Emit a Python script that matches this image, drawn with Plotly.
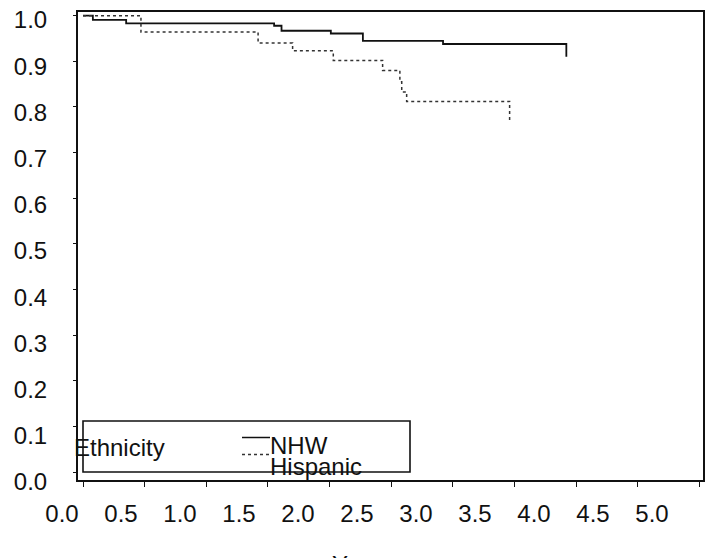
import plotly.graph_objects as go

W, H = 705, 558

# Kaplan-Meier step estimates by ethnicity
years_nhw = [0.0, 0.08, 0.35, 1.55, 1.61, 2.01, 2.27, 2.92, 3.92]
surv_nhw = [1.0, 0.991, 0.983, 0.978, 0.967, 0.961, 0.945, 0.938, 0.910]

years_hisp = [0.0, 0.47, 1.42, 1.70, 2.03, 2.43, 2.57, 2.585, 2.625, 3.46]
surv_hisp = [1.0, 0.964, 0.940, 0.923, 0.902, 0.880, 0.855, 0.833, 0.812, 0.766]

group_labels = ["NHW", "Hispanic"]
legend_title = "Ethnicity"
x_title = "Years"

x_ticks = [0.0, 0.5, 1.0, 1.5, 2.0, 2.5, 3.0, 3.5, 4.0, 4.5, 5.0]
x_tick_text = ["0.0", "0.5", "1.0", "1.5", "2.0", "2.5", "3.0", "3.5", "4.0", "4.5", "5.0"]
y_ticks = [0.0, 0.1, 0.2, 0.3, 0.4, 0.5, 0.6, 0.7, 0.8, 0.9, 1.0]
y_tick_text = ["0.0", "0.1", "0.2", "0.3", "0.4", "0.5", "0.6", "0.7", "0.8", "0.9", "1.0"]

FONT = "Liberation Sans, Arial, sans-serif"
INK = "#111111"


def fx(px):
    return px / W


def fy(py):
    return 1 - py / H


fig = go.Figure()

fig.add_trace(go.Scatter(
    x=years_nhw, y=surv_nhw, name=group_labels[0], mode="lines",
    line=dict(shape="hv", color=INK, width=1.8),
    xaxis="x", yaxis="y",
))
fig.add_trace(go.Scatter(
    x=years_hisp, y=surv_hisp, name=group_labels[1], mode="lines",
    line=dict(shape="hv", color="#333333", width=1.5, dash="dot"),
    xaxis="x", yaxis="y",
))
# carrier for the label axes
fig.add_trace(go.Scatter(x=[], y=[], xaxis="x2", yaxis="y2",
                         showlegend=False, hoverinfo="skip"))

frame = dict(showline=True, mirror=True, linecolor=INK, linewidth=1.6,
             showgrid=False, zeroline=False, showticklabels=False,
             ticks="outside", tickcolor=INK, tickwidth=1.2)

fig.update_layout(
    width=W, height=H, autosize=False,
    margin=dict(l=0, r=0, t=0, b=0),
    paper_bgcolor="white", plot_bgcolor="rgba(0,0,0,0)",
    showlegend=False,
    font=dict(family=FONT, size=24, color=INK),
    xaxis=dict(domain=[fx(78), fx(703)], range=[-0.0406, 5.0284],
               tickvals=x_ticks, ticklen=5, anchor="y", **frame),
    yaxis=dict(domain=[fy(480), fy(12)], range=[-0.0175, 1.0081],
               tickvals=y_ticks, ticklen=3, anchor="x", **frame),
    xaxis2=dict(domain=[0, 1], range=[-0.5254, 5.449], anchor="free",
                position=fy(480), side="bottom", showline=False,
                showgrid=False, zeroline=False, ticks="outside", ticklen=12,
                tickcolor="rgba(0,0,0,0)", tickvals=x_ticks,
                ticktext=x_tick_text,
                tickfont=dict(family=FONT, size=24, color=INK)),
    yaxis2=dict(domain=[0, 1], range=[-0.1645, 1.0433], anchor="free",
                position=fx(78), side="left", showline=False,
                showgrid=False, zeroline=False, ticks="outside", ticklen=26,
                tickcolor="rgba(0,0,0,0)", tickvals=y_ticks,
                ticktext=y_tick_text,
                tickfont=dict(family=FONT, size=24, color=INK)),
)

# legend box with its key
fig.add_shape(type="rect", xref="paper", yref="paper",
              x0=fx(83), x1=fx(410), y0=fy(472), y1=fy(421),
              line=dict(color=INK, width=1.6))
fig.add_shape(type="line", xref="paper", yref="paper",
              x0=fx(242), x1=fx(270), y0=fy(437.5), y1=fy(437.5),
              line=dict(color=INK, width=1.5))
fig.add_shape(type="line", xref="paper", yref="paper",
              x0=fx(242), x1=fx(270), y0=fy(454.5), y1=fy(454.5),
              line=dict(color="#333333", width=1.5, dash="dot"))

fig.add_annotation(text=legend_title, xref="paper", yref="paper",
                   x=fx(72), y=fy(447), xanchor="left", yanchor="middle",
                   showarrow=False, font=dict(family=FONT, size=24, color=INK))
fig.add_annotation(text=group_labels[0], xref="paper", yref="paper",
                   x=fx(268), y=fy(445), xanchor="left", yanchor="middle",
                   showarrow=False, font=dict(family=FONT, size=24, color=INK))
fig.add_annotation(text=group_labels[1], xref="paper", yref="paper",
                   x=fx(268), y=fy(466), xanchor="left", yanchor="middle",
                   showarrow=False, font=dict(family=FONT, size=24, color=INK))

fig.add_annotation(text=x_title, xref="paper", yref="paper",
                   x=fx(362), y=fy(549), xanchor="center", yanchor="top",
                   showarrow=False, font=dict(family=FONT, size=24, color=INK))

fig.write_html("out.html")
